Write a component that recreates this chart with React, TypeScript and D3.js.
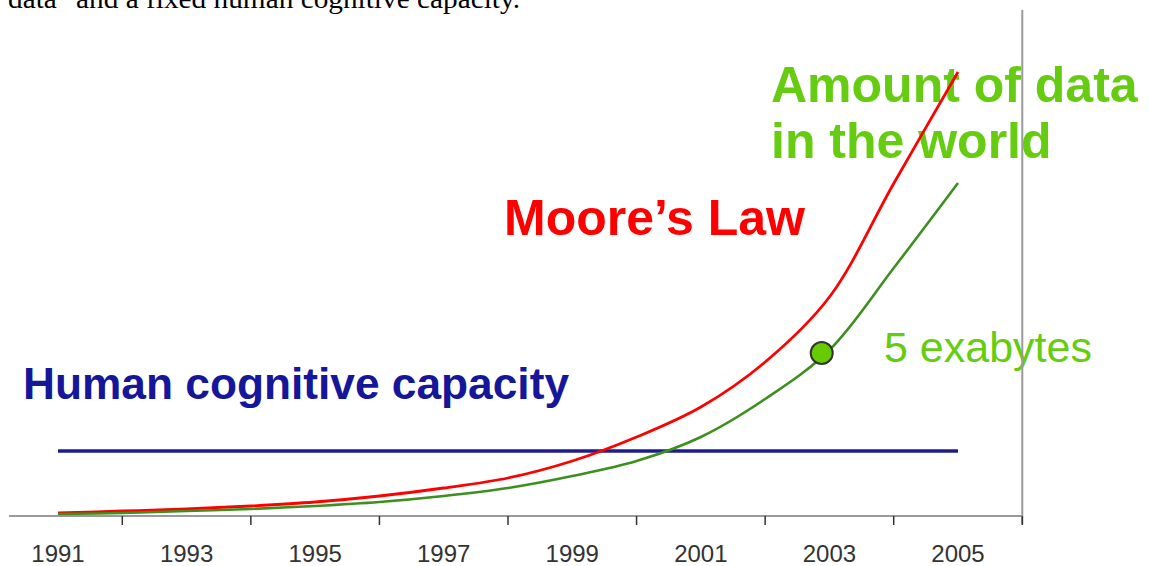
import React from 'react';
import * as d3 from 'd3';

// years along the x axis
const years = [1991, 1992, 1993, 1994, 1995, 1996, 1997, 1998, 1999, 2000, 2001, 2002, 2003, 2004, 2005];
// relative scale 0..100
const mooresLaw = [0.6, 1.0, 1.4, 2.0, 2.8, 4.0, 5.6, 7.6, 11, 15.8, 21.8, 30.8, 43.8, 66.5, 88.8];
const dataAmount = [0.4, 0.6, 1.0, 1.4, 2.0, 2.8, 4.0, 5.6, 8.0, 11, 15.8, 23.4, 33.2, 49.6, 66.6];
const humanCapacity = 13;
const exabyteMark = { year: 2002.88, value: 32.6 };

const tickYears = [1992, 1994, 1996, 1998, 2000, 2002, 2004, 2006];
const labelYears = [1991, 1993, 1995, 1997, 1999, 2001, 2003, 2005];

const W = 1149;
const H = 566;

const GREEN = '#66cc11';

export default function App() {
  const x = d3.scaleLinear().domain([1991, 2005]).range([58, 958]);
  const y = d3.scaleLinear().domain([0, 100]).range([516, 16]);

  const line = d3.line<[number, number]>()
    .x(d => x(d[0]))
    .y(d => y(d[1]))
    .curve(d3.curveCatmullRom.alpha(0.5));

  const redPath = line(years.map((yr, i) => [yr, mooresLaw[i]]));
  const greenPath = line(years.map((yr, i) => [yr, dataAmount[i]]));

  const axisY = y(0);
  const axisRight = x(2006);

  return (
    <div style={{ position: 'absolute', left: 0, top: 0, width: W, height: H, background: '#fff' }}>
      <svg width={W} height={H} style={{ display: 'block' }}>
        {/* cut-off caption from the page above */}
        <text x={8} y={8} fontFamily="'Liberation Serif', 'Times New Roman', serif" fontSize={27}
          textLength={512} lengthAdjust="spacingAndGlyphs" fill="#000">
          data" and a fixed human cognitive capacity.
        </text>

        {/* annotations */}
        <g fontFamily="'Liberation Sans', Arial, sans-serif" fontWeight="bold">
          <text x={771} y={102} fontSize={50} fill={GREEN}>Amount of data</text>
          <text x={771} y={158} fontSize={50} fill={GREEN}>in the world</text>
          <text x={504} y={235} fontSize={50} fill="#ff0000">Moore’s Law</text>
          <text x={23} y={399} fontSize={44} fill="#16169a" textLength={546} lengthAdjust="spacingAndGlyphs">Human cognitive capacity</text>
        </g>
        <text x={884} y={362} fontFamily="'Liberation Sans', Arial, sans-serif" fontSize={43} fill={GREEN}>
          5 exabytes
        </text>

        {/* axes */}
        <line x1={9} x2={axisRight} y1={axisY} y2={axisY} stroke="#9a9a9a" strokeWidth={2} />
        <line x1={axisRight} x2={axisRight} y1={10} y2={axisY + 8} stroke="#9a9a9a" strokeWidth={2} />
        {tickYears.map(t => (
          <line key={t} x1={x(t)} x2={x(t)} y1={axisY} y2={axisY + 9} stroke="#333" strokeWidth={1.5} />
        ))}
        {labelYears.map(t => (
          <text key={t} x={x(t)} y={562} textAnchor="middle" fontFamily="'Liberation Sans', Arial, sans-serif"
            fontSize={24} fill="#333">{t}</text>
        ))}

        {/* series */}
        <line x1={x(1991)} x2={x(2005)} y1={y(humanCapacity)} y2={y(humanCapacity)} stroke="#1c1c8c" strokeWidth={3.5} />
        <path d={redPath || ''} fill="none" stroke="#ff0000" strokeWidth={2.8} />
        <path d={greenPath || ''} fill="none" stroke="#3d8f1f" strokeWidth={2.6} />
        <circle cx={x(exabyteMark.year)} cy={y(exabyteMark.value)} r={11} fill="#66cc00" stroke="#333" strokeWidth={2} />
      </svg>
    </div>
  );
}
